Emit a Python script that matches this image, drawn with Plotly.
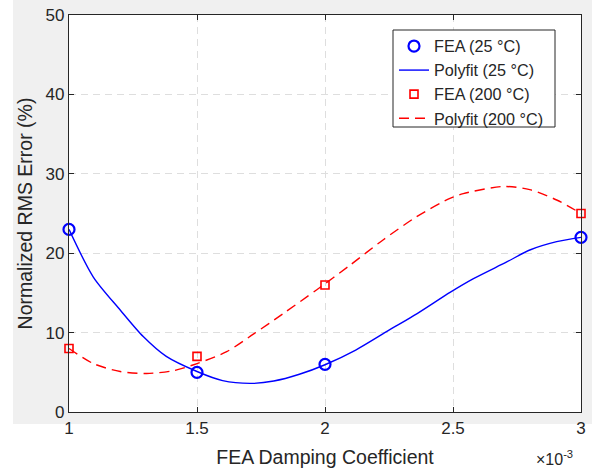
import plotly.graph_objects as go

# FEA results: damping coefficient vs normalized RMS error (%)
damping = [1.0e-3, 1.5e-3, 2.0e-3, 3.0e-3]
fea_25 = [23, 5, 6, 22]
fea_200 = [8, 7, 16, 25]

# Polynomial fit curves (sampled)
fit25_x = [1.0e-3, 1.095e-3, 1.2e-3, 1.29e-3, 1.38e-3, 1.5e-3, 1.6e-3, 1.707e-3,
           1.8e-3, 1.9e-3, 2.0e-3, 2.12e-3, 2.25e-3, 2.36e-3, 2.49e-3, 2.58e-3,
           2.71e-3, 2.8e-3, 2.905e-3, 3.0e-3]
fit25_y = [23.0, 17.0, 12.85, 9.5, 7.0, 5.1, 3.95, 3.6,
           3.9, 4.75, 5.95, 7.8, 10.3, 12.4, 15.1, 16.8,
           18.9, 20.4, 21.45, 22.0]

fit200_x = [1.0e-3, 1.095e-3, 1.2e-3, 1.303e-3, 1.407e-3, 1.5e-3, 1.616e-3, 1.72e-3,
            1.837e-3, 1.968e-3, 2.098e-3, 2.228e-3, 2.358e-3, 2.488e-3, 2.54e-3,
            2.696e-3, 2.8e-3, 2.905e-3, 3.0e-3]
fit200_y = [8.0, 6.1, 5.1, 4.85, 5.2, 6.1, 7.6, 9.8,
            12.4, 15.4, 18.5, 21.7, 24.6, 26.9, 27.5,
            28.4, 28.0, 26.7, 25.0]

x_ticks = [1.0e-3, 1.5e-3, 2.0e-3, 2.5e-3, 3.0e-3]
x_tick_text = ["1", "1.5", "2", "2.5", "3"]
y_ticks = [0, 10, 20, 30, 40, 50]

FONT = "Liberation Sans, Arial, sans-serif"
TEXT = "#262626"
AXIS = "#262626"
GRID = "#dedede"

fig = go.Figure()
fig.add_trace(go.Scatter(
    x=damping, y=fea_25, mode="markers", name="FEA (25 °C)", cliponaxis=False,
    marker=dict(symbol="circle-open", size=11, color="#0000ff",
                line=dict(width=2.2, color="#0000ff")),
))
fig.add_trace(go.Scatter(
    x=fit25_x, y=fit25_y, mode="lines", name="Polyfit (25 °C)",
    line=dict(color="#0000ff", width=1.4, shape="spline", smoothing=0.8),
))
fig.add_trace(go.Scatter(
    x=damping, y=fea_200, mode="markers", name="FEA (200 °C)", cliponaxis=False,
    marker=dict(symbol="square-open", size=8, color="#ff0000",
                line=dict(width=1.6, color="#ff0000")),
))
fig.add_trace(go.Scatter(
    x=fit200_x, y=fit200_y, mode="lines", name="Polyfit (200 °C)",
    line=dict(color="#ff0000", width=1.4, dash="10px,6px",
              shape="spline", smoothing=0.8),
))

axis_common = dict(
    showline=True, linecolor=AXIS, linewidth=1.2, mirror="ticks",
    ticks="inside", ticklen=5, tickcolor=AXIS, tickwidth=1,
    showgrid=True, gridcolor=GRID, gridwidth=1, griddash="7px,5px",
    zeroline=False, automargin=False,
    tickfont=dict(family=FONT, size=17, color=TEXT),
)

fig.update_xaxes(
    range=[1.0e-3, 3.0e-3], tickvals=x_ticks, ticktext=x_tick_text,
    title=dict(text="FEA Damping Coefficient",
               font=dict(family=FONT, size=19.5, color=TEXT), standoff=13),
    **axis_common,
)
fig.update_yaxes(
    range=[0, 50], tickvals=y_ticks,
    title=dict(text="Normalized RMS Error (%)",
               font=dict(family=FONT, size=19.5, color=TEXT), standoff=7),
    **axis_common,
)

# figure background with thin white border strips on the left and bottom
W, H = 592, 471
L, R, T, B = 69, 11, 15, 59
pw, ph = W - L - R, H - T - B
shapes = [
    dict(type="rect", xref="paper", yref="paper", layer="below",
         x0=-L / pw, x1=(13 - L) / pw, y0=-B / ph, y1=(H - T) / ph,
         fillcolor="white", line=dict(width=0)),
    dict(type="rect", xref="paper", yref="paper", layer="below",
         x0=-L / pw, x1=(W - L) / pw, y0=-B / ph, y1=(H - T - 468) / ph,
         fillcolor="white", line=dict(width=0)),
    # legend frame
    dict(type="rect", xref="paper", yref="paper", layer="above",
         x0=(393 - L) / pw, x1=(555 - L) / pw,
         y0=(H - B - 127) / ph, y1=(H - B - 30) / ph,
         fillcolor="white", line=dict(width=1, color=AXIS)),
]

fig.update_layout(
    width=W, height=H,
    margin=dict(l=L, r=R, t=T, b=B, pad=0),
    paper_bgcolor="#f0f0f0", plot_bgcolor="white",
    font=dict(family=FONT, color=TEXT),
    shapes=shapes,
    showlegend=True,
    legend=dict(
        x=(394 - L) / pw, y=(H - B - 29) / ph, xanchor="left", yanchor="top",
        bgcolor="rgba(0,0,0,0)", borderwidth=0,
        font=dict(family=FONT, size=16.2, color=TEXT),
        itemwidth=30, tracegroupgap=0,
    ),
    annotations=[
        dict(text="×10<sup>-3</sup>", xref="paper", yref="paper",
             x=(575 - L) / pw, y=(H - B - 470) / ph, xanchor="right", yanchor="bottom",
             showarrow=False, font=dict(family=FONT, size=16, color=TEXT)),
    ],
)

fig.write_html("out.html")
